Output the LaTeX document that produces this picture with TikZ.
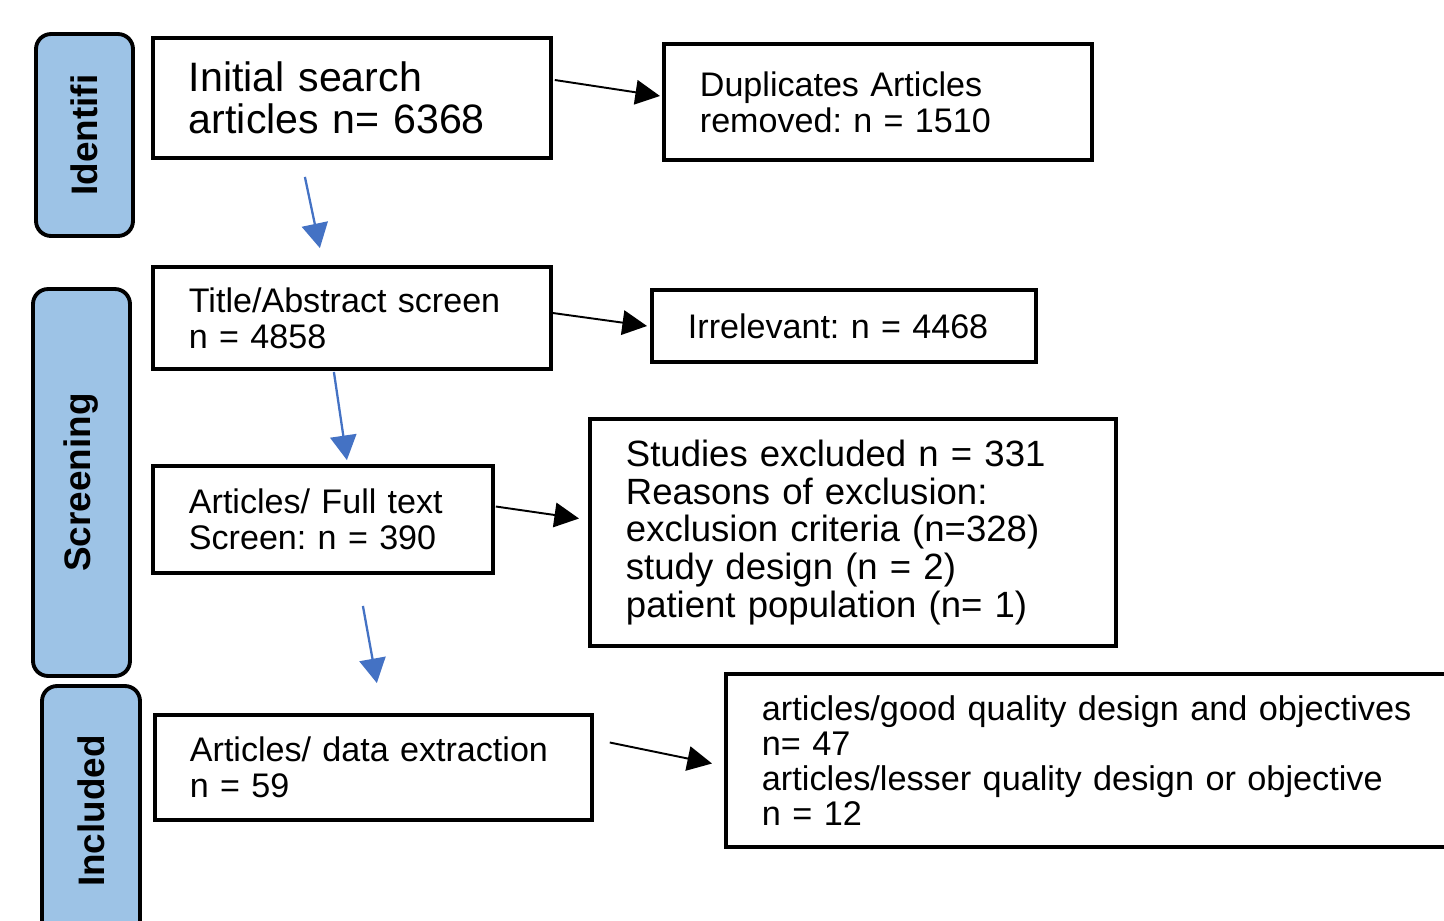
\documentclass[tikz,border=0pt]{standalone}
\usepackage{fontspec}
\setmainfont{Liberation Sans}
\usepackage{xcolor}
\usetikzlibrary{positioning,arrows.meta,calc}
\definecolor{stagefill}{HTML}{9DC3E6}
\definecolor{flowblue}{HTML}{4472C4}
\frenchspacing

\begin{document}
\begin{tikzpicture}
		[x=0.02cm,y=-0.02cm,
		box/.style={draw,line width=2.2pt,rectangle,anchor=west,align=left,inner xsep=0.72cm,inner ysep=0pt,
			font=\fontsize{19.4pt}{20.5pt}\selectfont},
		stage/.style={draw,line width=2.2pt,fill=stagefill,rounded corners=0.3cm,rotate=90,inner sep=0pt,
			font=\fontsize{21pt}{22pt}\selectfont\bfseries},
		sidearr/.style={line width=1.1pt,-{Triangle[length=14pt,width=14pt]}},
		downarr/.style={flowblue,line width=1.3pt,-{Triangle[length=14pt,width=15pt]}}]
		\useasboundingbox (0,0) rectangle (1444,920);
		\clip (0,0) rectangle (1444,920);
		% stages
		\node[stage,minimum width=4.04cm,minimum height=1.94cm] (ident) at (84.5,135) {Identifi};
		\node[stage,minimum width=7.74cm,minimum height=1.94cm] (screen) at (81.5,482.5) {Screening};
		\node[stage,minimum width=5cm,minimum height=1.96cm] (incl) at (91,811) {Included};
		% boxes
		\node[box,text width=6.52cm,minimum height=2.4cm,font=\fontsize{23.4pt}{24pt}\selectfont] (init) at (151,98)
			{Initial search\\articles n= 6368};
		\node[box,text width=7.12cm,minimum height=2.32cm] (dup) at (662,102)
			{Duplicates Articles\\removed: n = 1510};
		\node[box,text width=6.52cm,minimum height=2.04cm] (title) at (151,318)
			{Title/Abstract screen\\n = 4858};
		\node[box,text width=6.24cm,minimum height=1.44cm] (irrel) at (650,326)
			{Irrelevant: n = 4468};
		\node[box,text width=5.36cm,minimum height=2.14cm] (full) at (151,519.5)
			{Articles/ Full text\\Screen: n = 390};
		\node[box,text width=9.08cm,minimum height=4.54cm,font=\fontsize{20.8pt}{21.6pt}\selectfont] (excl) at (588,532.5)
			{Studies excluded n = 331\\Reasons of exclusion:\\exclusion criteria (n=328)\\study design (n = 2)\\patient population (n= 1)};
		\node[box,inner xsep=0.7cm,text width=7.34cm,minimum height=2.1cm] (extr) at (153,767.5)
			{Articles/ data extraction\\n = 59};
		\node[box,text width=13.76cm,minimum height=3.46cm,font=\fontsize{19.5pt}{19.9pt}\selectfont] (qual) at (724,760.5)
			{articles/good quality design and objectives\\n= 47\\articles/lesser quality design or objective\\n = 12};
		% arrows
		\draw[sidearr] ($(init.east)+(2,-18)$) -- ($(dup.west)+(-2,-6)$);
		\draw[sidearr] ($(title.east)+(0,-5)$) -- ($(irrel.west)+(-3,0)$);
		\draw[sidearr] ($(full.east)+(1,-13)$) -- ($(excl.west)+(-9,-14)$);
		\draw[sidearr] ($(extr.east)+(16,-25)$) -- ($(qual.west)+(-12,3)$);
		\draw[downarr] ($(init.south)+(-47,17)$) -- ($(title.north)+(-32,-17)$);
		\draw[downarr] ($(title.south)+(-18,1)$) -- ($(full.north)+(24,-4)$);
		\draw[downarr] ($(full.south)+(40,31)$) -- ($(extr.north)+(3.5,-30)$);
\end{tikzpicture}
\end{document}
